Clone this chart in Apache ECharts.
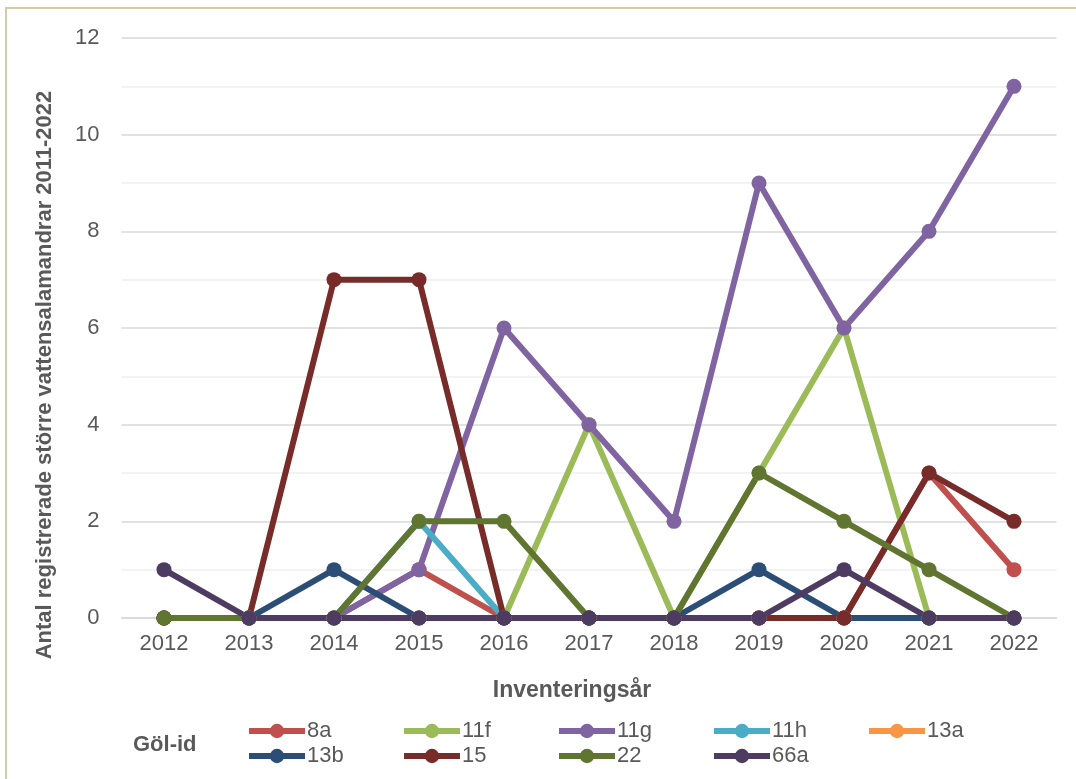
<!DOCTYPE html>
<html>
<head>
<meta charset="utf-8">
<script src="https://cdn.jsdelivr.net/npm/echarts@6.0.0/dist/echarts.min.js"></script>
<style>
  html, body { margin: 0; padding: 0; background: #fff; }
  #chart { width: 1076px; height: 779px; }
</style>
</head>
<body>
<div id="chart"></div>
<script>
// inventeringsår
var years = ['2012', '2013', '2014', '2015', '2016', '2017', '2018', '2019', '2020', '2021', '2022'];

// antal per göl
var g8a  = [0, 0, 0, 1, 0, 0, 0, 0, 0, 3, 1];
var g11f = [0, 0, 0, 0, 0, 4, 0, 3, 6, 0, 0];
var g11g = [0, 0, 0, 1, 6, 4, 2, 9, 6, 8, 11];
var g11h = [0, 0, 0, 2, 0, 0, 0, 0, 0, 0, 0];
var g13a = [0, 0, 0, 0, 0, 0, 0, 0, 0, 0, 0];
var g13b = [0, 0, 1, 0, 0, 0, 0, 1, 0, 0, 0];
var g15  = [0, 0, 7, 7, 0, 0, 0, 0, 0, 3, 2];
var g22  = [0, 0, 0, 2, 2, 0, 0, 3, 2, 1, 0];
var g66a = [1, 0, 0, 0, 0, 0, 0, 0, 1, 0, 0];

var names  = ['8a', '11f', '11g', '11h', '13a', '13b', '15', '22', '66a'];
var values = [g8a, g11f, g11g, g11h, g13a, g13b, g15, g22, g66a];
var colors = ['#C0504D', '#9BBB59', '#8064A2', '#4BACC6', '#F79646',
              '#2C4D75', '#772C2A', '#5F7530', '#4D3B62'];

var font = "'Liberation Sans', Arial, sans-serif";
var textColor = '#595959';

var chart = echarts.init(document.getElementById('chart'));

var series = names.map(function (n, i) {
  return {
    name: n,
    type: 'line',
    data: values[i],
    symbol: 'circle',
    symbolSize: 15,
    lineStyle: { width: 6, color: colors[i] },
    itemStyle: { color: colors[i] },
    emphasis: { disabled: true },
    animation: false
  };
});

function legendFor(list, top) {
  return {
    data: list,
    left: 246,
    top: top,
    orient: 'horizontal',
    itemWidth: 56,
    itemHeight: 18,
    itemGap: 0,
    padding: 0,
    selectedMode: false,
    lineStyle: { width: 6 },
    textStyle: {
      fontFamily: font,
      fontSize: 22,
      color: textColor,
      width: 94,
      lineHeight: 24,
      padding: [0, 0, 0, -3]
    }
  };
}

var option = {
  backgroundColor: '#fff',
  color: colors,
  grid: { left: 121.5, right: 19.5, top: 38, bottom: 161 },
  xAxis: {
    type: 'category',
    data: years,
    boundaryGap: true,
    axisLine: { lineStyle: { color: '#d9d9d9', width: 1.5 } },
    axisTick: { show: false },
    axisLabel: { color: textColor, fontSize: 22, fontFamily: font, margin: 15 }
  },
  yAxis: {
    type: 'value',
    min: 0,
    max: 12,
    interval: 2,
    axisLine: { show: false },
    axisTick: { show: false },
    axisLabel: { color: textColor, fontSize: 22, fontFamily: font, margin: 22 },
    splitLine: { lineStyle: { color: '#d9d9d9', width: 1.5 } },
    minorTick: { show: false, splitNumber: 2 },
    minorSplitLine: { show: true, lineStyle: { color: '#f0f0f0', width: 1.5 } }
  },
  legend: [
    legendFor(names.slice(0, 5), 719),
    legendFor(names.slice(5), 744)
  ],
  graphic: [
    {
      type: 'rect',
      shape: { x: 6, y: 8, width: 1300, height: 1000 },
      style: { fill: 'none', stroke: '#d3cca6', lineWidth: 2 },
      silent: true
    },
    {
      type: 'text',
      x: 45,
      y: 375,
      rotation: Math.PI / 2,
      style: {
        text: 'Antal registrerade större vattensalamandrar 2011-2022',
        fontFamily: font,
        fontSize: 22,
        fontWeight: 'bold',
        fill: textColor,
        align: 'center',
        verticalAlign: 'middle'
      }
    },
    {
      type: 'text',
      x: 572,
      y: 691,
      style: {
        text: 'Inventeringsår',
        fontFamily: font,
        fontSize: 23,
        fontWeight: 'bold',
        fill: textColor,
        align: 'center',
        verticalAlign: 'middle'
      }
    },
    {
      type: 'text',
      x: 133,
      y: 745,
      style: {
        text: 'Göl-id',
        fontFamily: font,
        fontSize: 22,
        fontWeight: 'bold',
        fill: textColor,
        align: 'left',
        verticalAlign: 'middle'
      }
    }
  ],
  series: series
};

chart.setOption(option);
</script>
</body>
</html>
